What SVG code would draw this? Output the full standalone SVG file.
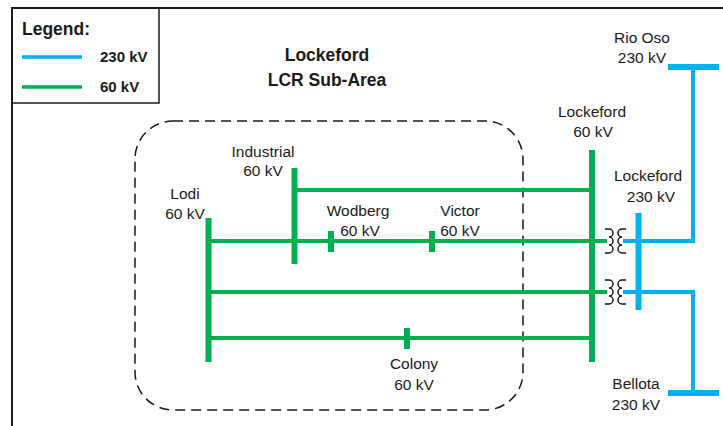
<svg xmlns="http://www.w3.org/2000/svg" width="723" height="426" viewBox="0 0 723 426">
<style>
text{font-family:"Liberation Sans",Arial,sans-serif;font-size:15.5px;fill:#1a1a1a;text-anchor:middle}
.b{font-weight:bold}
.g{stroke:#00B050;fill:none}
.bl{stroke:#00B0F0;fill:none}
.bus{stroke-width:6}
.ln{stroke-width:4}
.coil{stroke:#1a1a1a;stroke-width:1.5;fill:none}
</style>
<rect width="723" height="426" fill="#fff"/>
<g id="frame">
<path d="M12,426 V8 H723" stroke="#1a1a1a" stroke-width="2" fill="none"/>
</g>
<g id="legend">
<rect x="12" y="8" width="147" height="95" fill="none" stroke="#1a1a1a" stroke-width="1.5"/>
<text x="22" y="35" class="b" style="text-anchor:start;font-size:17.5px">Legend:</text>
<line x1="22" y1="57" x2="82" y2="57" class="bl" stroke-width="3.5"/>
<text x="100" y="62" class="b" style="text-anchor:start;font-size:15px">230 kV</text>
<line x1="22" y1="87" x2="82" y2="87" class="g" stroke-width="3.5"/>
<text x="100" y="92" class="b" style="text-anchor:start;font-size:15px">60 kV</text>
</g>
<g id="title">
<text x="327" y="61" class="b" style="font-size:17.5px">Lockeford</text>
<text x="327" y="86" class="b" style="font-size:17.5px">LCR Sub-Area</text>
</g>
<g id="subarea">
<rect x="135" y="121" width="388" height="289" rx="38" ry="38" fill="none" stroke="#1a1a1a" stroke-width="1.5" stroke-dasharray="10,6"/>
</g>
<g id="connectors">
<line x1="294" y1="190" x2="592" y2="190" class="g ln"/>
<line x1="208" y1="241" x2="607" y2="241" class="g ln"/>
<line x1="208" y1="292" x2="607" y2="292" class="g ln"/>
<line x1="208" y1="338" x2="592" y2="338" class="g ln"/>
<line x1="623" y1="241" x2="693" y2="241" class="bl ln"/>
<line x1="623" y1="292" x2="693" y2="292" class="bl ln"/>
<line x1="693" y1="67" x2="693" y2="243" class="bl ln"/>
<line x1="693" y1="290" x2="693" y2="393" class="bl ln"/>
</g>
<g id="lodi">
<line x1="208.5" y1="218" x2="208.5" y2="362" class="g bus"/>
<text x="185" y="199">Lodi</text>
<text x="185" y="219">60 kV</text>
</g>
<g id="industrial">
<line x1="294.5" y1="168" x2="294.5" y2="264" class="g bus"/>
<text x="263" y="157">Industrial</text>
<text x="263" y="176">60 kV</text>
</g>
<g id="wodberg">
<line x1="331" y1="231" x2="331" y2="252" class="g bus"/>
<text x="358" y="216">Wodberg</text>
<text x="360" y="236">60 kV</text>
</g>
<g id="victor">
<line x1="432" y1="231" x2="432" y2="252" class="g bus"/>
<text x="460" y="216">Victor</text>
<text x="460" y="236">60 kV</text>
</g>
<g id="colony">
<line x1="407" y1="328" x2="407" y2="349" class="g bus"/>
<text x="414" y="369">Colony</text>
<text x="414" y="390">60 kV</text>
</g>
<g id="lockeford60">
<line x1="592" y1="150" x2="592" y2="362" class="g bus"/>
<text x="592" y="117">Lockeford</text>
<text x="593" y="137">60 kV</text>
</g>
<g id="transformer1">
<path class="coil" d="M605,229 H609 a4,4 0 0 1 0,8 a4,4 0 0 1 0,8 a4,4 0 0 1 0,8 H605"/>
<path class="coil" d="M626,229 H622 a4,4 0 0 0 0,8 a4,4 0 0 0 0,8 a4,4 0 0 0 0,8 H626"/>
</g>
<g id="transformer2">
<path class="coil" d="M605,280 H609 a4,4 0 0 1 0,8 a4,4 0 0 1 0,8 a4,4 0 0 1 0,8 H605"/>
<path class="coil" d="M626,280 H622 a4,4 0 0 0 0,8 a4,4 0 0 0 0,8 a4,4 0 0 0 0,8 H626"/>
</g>
<g id="lockeford230">
<line x1="638.5" y1="213" x2="638.5" y2="310" class="bl bus"/>
<text x="648" y="181">Lockeford</text>
<text x="651" y="202">230 kV</text>
</g>
<g id="riooso">
<line x1="668" y1="67" x2="719" y2="67" class="bl bus"/>
<text x="642" y="43">Rio Oso</text>
<text x="642" y="63">230 kV</text>
</g>
<g id="bellota">
<line x1="668" y1="393" x2="719" y2="393" class="bl bus"/>
<text x="636" y="389">Bellota</text>
<text x="636" y="410">230 kV</text>
</g>
</svg>
